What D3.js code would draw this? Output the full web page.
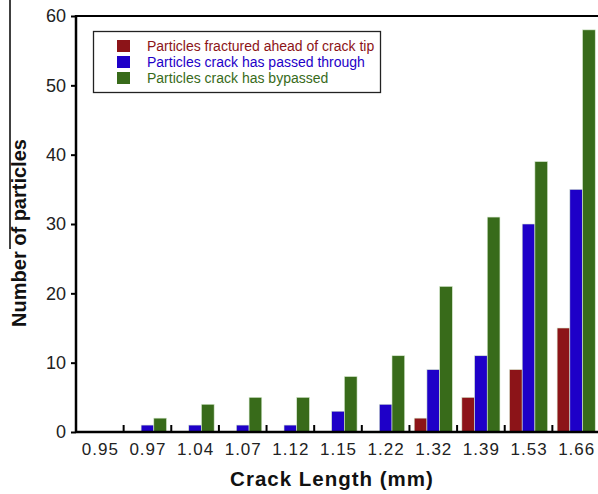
<!DOCTYPE html>
<html>
<head>
<meta charset="utf-8">
<script src="https://cdn.jsdelivr.net/npm/d3@7"></script>
<style>
  body { margin: 0; background: #fff; }
  svg { display: block; font-family: Arial, "Liberation Sans", sans-serif; }
</style>
</head>
<body>
<svg id="container" width="598" height="494"></svg>
<script>
var crackLengths = ["0.95", "0.97", "1.04", "1.07", "1.12", "1.15", "1.22", "1.32", "1.39", "1.53", "1.66"];
var fracturedAhead = [0, 0, 0, 0, 0, 0, 0, 2, 5, 9, 15];
var passedThrough = [0, 1, 1, 1, 1, 3, 4, 9, 11, 30, 35];
var bypassed = [0, 2, 4, 5, 5, 8, 11, 21, 31, 39, 58];
var seriesNames = ["Particles fractured ahead of crack tip", "Particles crack has passed through", "Particles crack has bypassed"];
var yTicks = [0, 10, 20, 30, 40, 50, 60];

var seriesColors = ["#8c1418", "#1e00c8", "#386b1a"];

function drawChart()
{
    const svg = d3.select('#container');
    const margin = { left: 76, right: 0, top: 16, bottom: 62 };
    const width = 598, height = 494;

    var x = d3.scaleBand().domain(crackLengths)
        .range([margin.left, 600]).paddingInner(0).paddingOuter(0);
    var inner = d3.scaleBand().domain([0, 1, 2])
        .range([x.bandwidth() * 0.1, x.bandwidth() * 0.9]);
    var y = d3.scaleLinear().domain([0, 60]).range([height - margin.bottom, margin.top]);

    var allSeries = [fracturedAhead, passedThrough, bypassed];
    var rows = crackLengths.map((c, i) => ({ cat: c, values: allSeries.map(s => s[i]) }));

    // bars
    var groups = svg.append("g").selectAll("g").data(rows).join("g")
        .attr("transform", d => "translate(" + x(d.cat) + ",0)");
    groups.selectAll("rect").data(d => d.values.map((v, k) => ({ k: k, v: v })))
        .join("rect")
        .filter(d => d.v > 0)
        .attr("x", d => inner(d.k))
        .attr("width", inner.bandwidth())
        .attr("y", d => y(d.v))
        .attr("height", d => y(0) - y(d.v))
        .attr("fill", d => seriesColors[d.k])
        .attr("stroke", "#d8ead0")
        .attr("stroke-width", 0.6);

    // y axis
    var yAxis = d3.axisLeft(y).tickValues(yTicks).tickSize(5).tickPadding(5);
    var gy = svg.append("g").attr("transform", "translate(" + margin.left + ",0)").call(yAxis);
    gy.select(".domain").remove();
    gy.selectAll(".tick line").attr("stroke", "#000").attr("stroke-width", 2);
    gy.selectAll(".tick text").attr("font-size", 18).attr("fill", "#222")
        .attr("font-family", "Arial, 'Liberation Sans', sans-serif");

    // x axis labels
    var xAxis = d3.axisBottom(x).tickSize(0).tickPadding(11);
    var gx = svg.append("g").attr("transform", "translate(0," + y(0) + ")").call(xAxis);
    gx.select(".domain").remove();
    gx.selectAll(".tick text").attr("font-size", 17).attr("fill", "#222")
        .attr("letter-spacing", 1).attr("dx", 0.5)
        .attr("font-family", "Arial, 'Liberation Sans', sans-serif");

    // inner ticks between categories
    svg.append("g").selectAll("line").data(crackLengths.slice(1)).join("line")
        .attr("x1", d => x(d)).attr("x2", d => x(d))
        .attr("y1", y(0)).attr("y2", y(0) - 7)
        .attr("stroke", "#000").attr("stroke-width", 2);

    // frame lines
    svg.append("line").attr("x1", margin.left).attr("x2", width)
        .attr("y1", y(0)).attr("y2", y(0)).attr("stroke", "#000").attr("stroke-width", 2.5);
    svg.append("line").attr("x1", margin.left).attr("x2", margin.left)
        .attr("y1", margin.top - 1).attr("y2", y(0) + 1).attr("stroke", "#000").attr("stroke-width", 2.5);
    svg.append("line").attr("x1", margin.left).attr("x2", width)
        .attr("y1", margin.top).attr("y2", margin.top).attr("stroke", "#000").attr("stroke-width", 2);

    // axis titles
    svg.append("text").attr("x", 332).attr("y", 486).attr("text-anchor", "middle")
        .attr("font-size", 20.5).attr("font-weight", "bold").attr("fill", "#111")
        .attr("letter-spacing", 1)
        .text("Crack Length (mm)");
    svg.append("text").attr("transform", "translate(26,233) rotate(-90)").attr("text-anchor", "middle")
        .attr("font-size", 20).attr("font-weight", "bold").attr("fill", "#111")
        .text("Number of particles");
    svg.append("line").attr("x1", 10).attr("x2", 10).attr("y1", 0).attr("y2", 249)
        .attr("stroke", "#000").attr("stroke-width", 1.5);

    // legend
    var legend = svg.append("g");
    legend.append("rect").attr("x", 93.5).attr("y", 31.5).attr("width", 287).attr("height", 61)
        .attr("fill", "#fff").attr("stroke", "#222").attr("stroke-width", 1.3);
    var items = legend.selectAll("g.item").data(seriesNames).join("g").attr("class", "item")
        .attr("transform", (d, i) => "translate(117," + (40 + i * 16) + ")");
    items.append("rect").attr("width", 13).attr("height", 12).attr("fill", (d, i) => seriesColors[i]);
    items.append("text").attr("x", 30).attr("y", 11).attr("font-size", 14)
        .attr("fill", (d, i) => seriesColors[i]).text(d => d);
}

drawChart();
</script>
</body>
</html>
